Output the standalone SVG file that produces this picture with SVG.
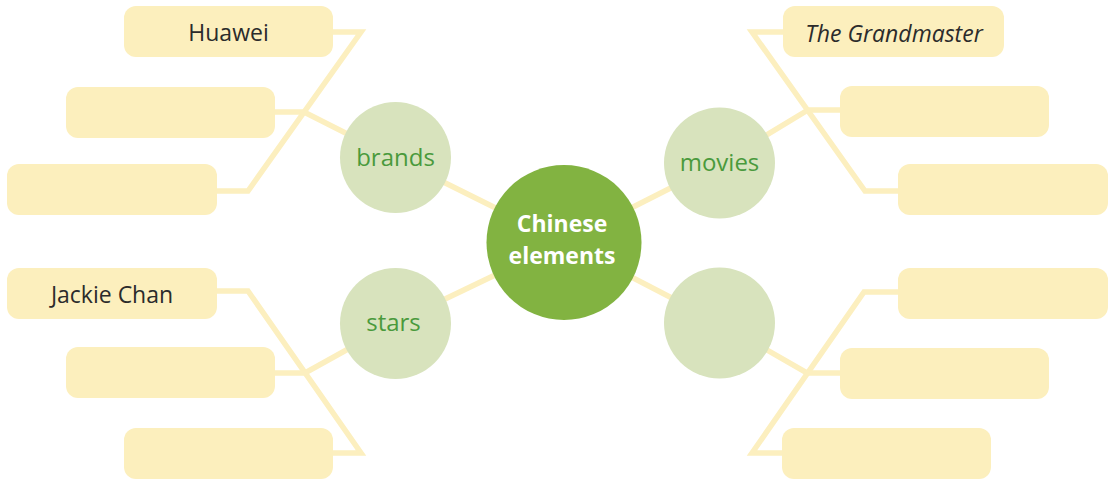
<svg xmlns="http://www.w3.org/2000/svg" width="1112" height="480" viewBox="0 0 1112 480">
  <style>
    .link { fill: none; stroke: #fcefbf; stroke-width: 5.5; stroke-linejoin: miter; }
    .box { fill: #fcefbd; }
    .topic { fill: #d8e3bd; }
    .hub { fill: #82b341; }
    .label { font-family: "Open Sans", "Noto Sans", sans-serif; font-size: 23px; fill: #2b2b2b; text-anchor: middle; }
    .topic-label { font-family: "Open Sans", "Noto Sans", sans-serif; font-size: 24px; fill: #4a9a3c; text-anchor: middle; }
    .hub-label { font-family: "Open Sans", "Noto Sans", sans-serif; font-size: 23px; font-weight: bold; fill: #ffffff; text-anchor: middle; }
  </style>
  <rect width="1112" height="480" fill="#ffffff"/>

  <g id="connectors">
    <!-- hub to topics -->
    <line class="link" x1="564" y1="242" x2="395" y2="158"/>
    <line class="link" x1="564" y1="242" x2="720" y2="163"/>
    <line class="link" x1="564" y1="242" x2="395" y2="323"/>
    <line class="link" x1="564" y1="242" x2="720" y2="323"/>
    <!-- brands bracket -->
    <polyline class="link" points="330,32 361,32 248,191 214,191"/>
    <polyline class="link" points="272,112 304,112 395,158"/>
    <!-- movies bracket -->
    <polyline class="link" points="786,32 752,32 865,191 901,191"/>
    <polyline class="link" points="843,110 808,110 720,163"/>
    <!-- stars bracket -->
    <polyline class="link" points="214,291 248,291 361,453 330,453"/>
    <polyline class="link" points="272,373 305,373 395,323"/>
    <!-- fourth bracket -->
    <polyline class="link" points="901,292 864,292 752,453 785,453"/>
    <polyline class="link" points="843,373 807,373 720,323"/>
  </g>

  <g id="hub">
    <circle class="hub" cx="564" cy="242.5" r="77.5"/>
    <text class="hub-label" x="562" y="232">Chinese</text>
    <text class="hub-label" x="562" y="263.5">elements</text>
  </g>

  <g id="topic-brands">
    <circle class="topic" cx="395.5" cy="157.5" r="55.5"/>
    <text class="topic-label" x="395.5" y="165.5">brands</text>
  </g>
  <g id="topic-movies">
    <circle class="topic" cx="719.5" cy="163" r="55.5"/>
    <text class="topic-label" x="719.5" y="170.5">movies</text>
  </g>
  <g id="topic-stars">
    <circle class="topic" cx="395.5" cy="323.5" r="55.5"/>
    <text class="topic-label" x="393.5" y="331.3">stars</text>
  </g>
  <g id="topic-blank">
    <circle class="topic" cx="719.5" cy="323" r="55.5"/>
  </g>

  <!-- brands answers -->
  <g id="box-huawei">
    <rect class="box" x="124" y="6" width="209" height="51" rx="12"/>
    <text class="label" x="228.5" y="40.5">Huawei</text>
  </g>
  <g id="box-brands-2">
    <rect class="box" x="66" y="87" width="209" height="51" rx="12"/>
  </g>
  <g id="box-brands-3">
    <rect class="box" x="7" y="164" width="210" height="51" rx="12"/>
  </g>

  <!-- movies answers -->
  <g id="box-grandmaster">
    <rect class="box" x="783" y="6" width="221" height="51" rx="12"/>
    <text class="label" x="894" y="41.5" font-style="italic" font-size="24">The Grandmaster</text>
  </g>
  <g id="box-movies-2">
    <rect class="box" x="840" y="86" width="209" height="51" rx="12"/>
  </g>
  <g id="box-movies-3">
    <rect class="box" x="898" y="164" width="210" height="51" rx="12"/>
  </g>

  <!-- stars answers -->
  <g id="box-jackie">
    <rect class="box" x="7" y="268" width="210" height="51" rx="12"/>
    <text class="label" x="112" y="302.5">Jackie Chan</text>
  </g>
  <g id="box-stars-2">
    <rect class="box" x="66" y="347" width="209" height="51" rx="12"/>
  </g>
  <g id="box-stars-3">
    <rect class="box" x="124" y="428" width="209" height="51" rx="12"/>
  </g>

  <!-- fourth topic answers -->
  <g id="box-blank-1">
    <rect class="box" x="898" y="268" width="210" height="51" rx="12"/>
  </g>
  <g id="box-blank-2">
    <rect class="box" x="840" y="348" width="209" height="51" rx="12"/>
  </g>
  <g id="box-blank-3">
    <rect class="box" x="782" y="428" width="209" height="51" rx="12"/>
  </g>
</svg>
